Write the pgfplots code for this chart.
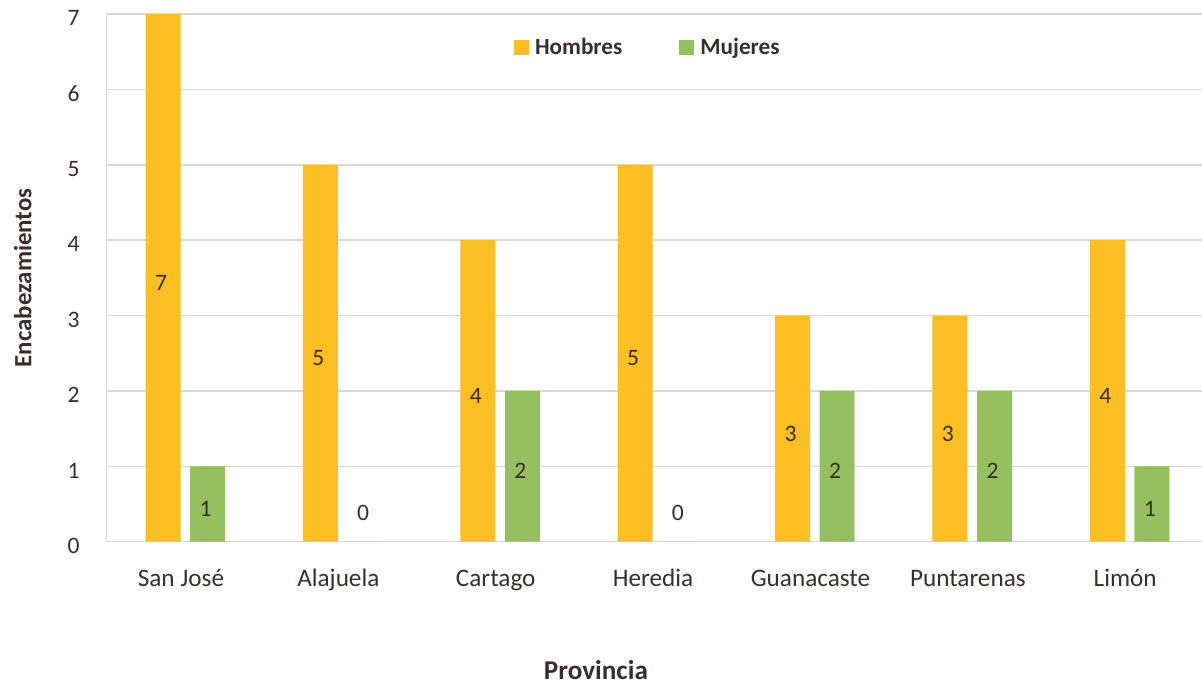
\documentclass[border=0pt]{standalone}
\usepackage{fontspec}
\setmainfont{Carlito}
\usepackage{pgfplots}
\pgfplotsset{compat=1.18}
\definecolor{hom}{HTML}{FBBE23}
\definecolor{muj}{HTML}{95C060}
\definecolor{gridc}{HTML}{D9D9D9}
\definecolor{txt}{HTML}{3B2E2A}
\begin{document}
\begin{tikzpicture}
\begin{axis}[
  scale only axis,
  width=547.65pt, height=263.85pt,
  xmin=-0.5, xmax=6.46,
  ymin=0, ymax=7,
  ytick={0,...,7},
  xtick={0,...,6},
  xticklabels={San José,Alajuela,Cartago,Heredia,Guanacaste,Puntarenas,Limón},
  major tick length=0pt,
  ymajorgrids,
  grid style={gridc, line width=0.75pt},
  axis x line*=bottom, axis y line*=left,
  axis line style={gridc, line width=0.75pt},
  /pgf/number format/assume math mode=true,
  tick label style={font=\fontsize{11.8}{14}\selectfont, text=txt},
  yticklabel style={anchor=base east, inner sep=0pt, xshift=-13.3pt, yshift=-5.85pt},
  xticklabel style={anchor=base, inner sep=0pt, yshift=-22.5pt, xshift=-2.2pt, font=\fontsize{12.6}{15}\selectfont},
  xlabel={Provincia},
  xlabel style={at={(axis description cs:0.4467,-0.2602)}, anchor=base, font=\bfseries\fontsize{13.6}{16}\selectfont, text=txt, inner sep=0pt},
  ylabel={Encabezamientos},
  ylabel style={at={(axis description cs:-0.0687,0.5)}, anchor=base, font=\bfseries\fontsize{12.4}{15}\selectfont, text=txt, inner sep=0pt},
  legend columns=2,
  legend style={draw=none, fill=none, at={(axis description cs:0.3719,0.9356)}, anchor=west,
    font=\bfseries\fontsize{11.6}{14}\selectfont, text=txt, inner sep=0pt, outer sep=0pt,
    nodes={inner sep=0pt},
    /tikz/every odd column/.append style={column sep=3pt},
    /tikz/every even column/.append style={column sep=28.5pt}},
  ybar,
  nodes near coords,
  visualization depends on={ifthenelse(y==0,0.443,-y/2) \as \dy},
  every node near coord/.append style={anchor=center, shift={(axis direction cs:0,\dy)}, yshift=-2.5pt, xshift=-1pt, font=\fontsize{11.8}{14}\selectfont, text=txt, inner sep=0pt},
]
\addplot[ybar, bar width=0.222, bar shift=-0.1417, fill=hom, draw=none,
  legend image code/.code={\fill[hom] (0pt,-3.75pt) rectangle (7.5pt,3.75pt);}]
  coordinates {(0,7) (1,5) (2,4) (3,5) (4,3) (5,3) (6,4)};
\addplot[ybar, bar width=0.222, bar shift=0.1417, fill=muj, draw=none,
  legend image code/.code={\fill[muj] (0pt,-3.75pt) rectangle (7.5pt,3.75pt);}]
  coordinates {(0,1) (1,0) (2,2) (3,0) (4,2) (5,2) (6,1)};
\legend{Hombres,Mujeres}
\end{axis}
\pgfresetboundingbox
\path[use as bounding box] ([shift={(-53.35pt,-70.65pt)}]current axis.south west) rectangle ([shift={(547.65pt,270.85pt)}]current axis.south west);
\end{tikzpicture}
\end{document}
